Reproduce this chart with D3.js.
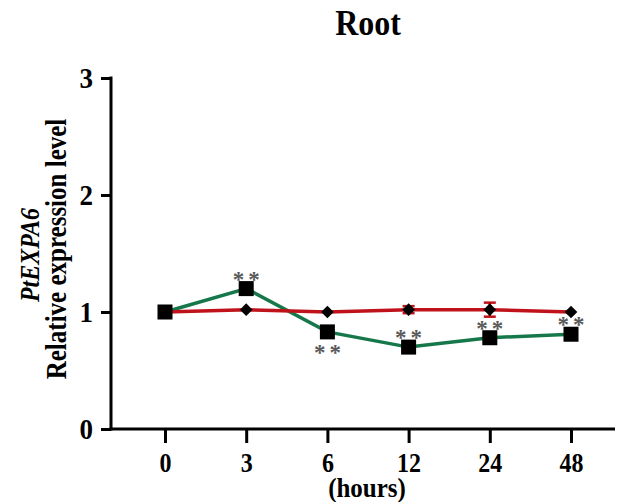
<!DOCTYPE html>
<html><head><meta charset="utf-8">
<script src="https://cdn.jsdelivr.net/npm/d3@7/dist/d3.min.js"></script>
<style>body{margin:0;background:#fff}svg{display:block}text{font-family:"Liberation Serif","Times New Roman",serif;font-weight:bold}</style>
</head><body><svg id="c" width="617" height="502"></svg>
<script>
const hours = ["0","3","6","12","24","48"];
const greenVals = [1.00, 1.20, 0.83, 0.70, 0.78, 0.81];
const redVals   = [1.00, 1.02, 1.00, 1.02, 1.02, 1.00];
const redErr    = [0, 0, 0, 0.03, 0.06, 0];
const sigMarks  = ["", "above", "below", "above", "above", "above"];
const yTicks = [0, 1, 2, 3];

const svg = d3.select("#c");
const x = d3.scalePoint().domain(hours).range([165, 571]);
const y = d3.scaleLinear().domain([0, 3]).range([429, 78]);
const SY = 1.1;

// title
svg.append("text").attr("transform", `translate(368,35) scale(1,${SY})`).attr("text-anchor", "middle")
  .attr("font-size", 32).text("Root");

// y axis
const ya = svg.append("g").attr("transform", "translate(111,0)")
  .call(d3.axisLeft(y).tickValues(yTicks).tickFormat(d3.format("d")).tickSize(10).tickSizeOuter(0));
ya.select(".domain").attr("stroke-width", 3).attr("d", `M0,${y(3)-1.5}V${y(0)+1.5}`);
ya.selectAll(".tick line").attr("stroke-width", 3);
ya.selectAll(".tick text").attr("font-size", 27).attr("x", null).attr("dy", null)
  .attr("transform", `translate(-18,9) scale(1,${SY})`)
  .attr("font-family", "Liberation Serif").attr("font-weight", "bold");

// x axis
const xa = svg.append("g").attr("transform", `translate(0,${y(0)})`)
  .call(d3.axisBottom(x).tickSize(14).tickSizeOuter(0));
xa.select(".domain").attr("stroke-width", 3).attr("d", "M109.5,0H615");
xa.selectAll(".tick line").attr("stroke-width", 3);
xa.selectAll(".tick text").attr("font-size", 24).attr("y", null).attr("dy", null)
  .attr("transform", `translate(0,43) scale(1,${SY})`)
  .attr("font-family", "Liberation Serif").attr("font-weight", "bold");

svg.append("text").attr("transform", `translate(367,497) scale(1,${SY})`).attr("text-anchor", "middle")
  .attr("font-size", 25).text("(hours)");

// y labels
svg.append("text").attr("transform", "translate(39,255) rotate(-90) scale(1,1.12)").attr("text-anchor", "middle")
  .attr("font-size", 24).attr("font-style", "italic").text("PtEXPA6");
svg.append("text").attr("transform", "translate(66,249) rotate(-90) scale(1,1.15)").attr("text-anchor", "middle")
  .attr("font-size", 25).text("Relative expression level");

const line = d3.line().x((d, i) => x(hours[i])).y(d => y(d));
const green = "#16784a", red = "#c0121a";

// red error bars
hours.forEach((h, i) => {
  if (redErr[i] > 0) {
    const g = svg.append("g").attr("stroke", red).attr("stroke-width", 2.5);
    g.append("line").attr("x1", x(h)).attr("x2", x(h)).attr("y1", y(redVals[i] + redErr[i])).attr("y2", y(redVals[i] - redErr[i]));
    [1, -1].forEach(s => g.append("line").attr("x1", x(h) - 6).attr("x2", x(h) + 6)
      .attr("y1", y(redVals[i] + s * redErr[i])).attr("y2", y(redVals[i] + s * redErr[i])));
  }
});

svg.append("path").datum(greenVals).attr("d", line).attr("fill", "none").attr("stroke", green).attr("stroke-width", 3.5);
svg.append("path").datum(redVals).attr("d", line).attr("fill", "none").attr("stroke", red).attr("stroke-width", 3.5);

// red diamonds
svg.selectAll(".dia").data(redVals).enter().append("path")
  .attr("d", d3.symbol().type(d3.symbolSquare).size(80))
  .attr("transform", (d, i) => `translate(${x(hours[i])},${y(d)}) rotate(45)`).attr("fill", "#000");

// green squares
svg.selectAll(".sq").data(greenVals).enter().append("rect")
  .attr("x", (d, i) => x(hours[i]) - 7.5).attr("y", d => y(d) - 7.5)
  .attr("width", 15).attr("height", 15).attr("fill", "#000");

// significance asterisks
sigMarks.forEach((m, i) => {
  if (!m) return;
  const cy = m === "above" ? y(greenVals[i]) - 13 : y(greenVals[i]) + 17;
  svg.append("text").attr("x", x(hours[i]) + 2).attr("y", cy + 11).attr("text-anchor", "middle")
    .attr("font-size", 23).attr("font-weight", "normal").attr("letter-spacing", 4)
    .attr("fill", "#5a5a5a").text("**");
});
</script></body></html>
